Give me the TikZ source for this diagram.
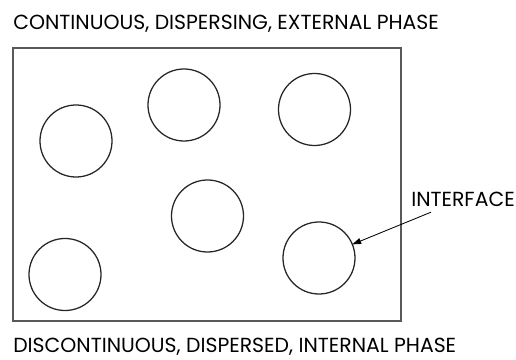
\documentclass[tikz,border=0pt]{standalone}
\usepackage{fontspec}
\setmainfont{Poppins}
\usetikzlibrary{arrows.meta,positioning}
\tikzset{
  drop/.style={circle,draw=black!85,line width=0.9pt,minimum size=1.8cm,inner sep=0pt,outer sep=0pt},
  phase/.style={anchor=base west,inner sep=0pt}
}

\begin{document}
\begin{tikzpicture}[x=0.025cm,y=-0.025cm,font=\fontsize{14.5}{16}\selectfont,>={Triangle[length=2.2mm,width=1.5mm]}]
\useasboundingbox (0,0) rectangle (516,360);
\node[phase] (outer) at (13,30) {CONTINUOUS, DISPERSING, EXTERNAL PHASE};
\draw[black!65,line width=0.8pt] (13,48) rectangle (401,321);
\node[drop] (drop1) at (76,141) {};
\node[drop] (drop2) at (184,105) {};
\node[drop] (drop3) at (314.5,109.5) {};
\node[drop] (drop4) at (207.5,216) {};
\node[drop] (drop5) at (65,274.5) {};
\node[drop] (drop6) at (319,258) {};
\node[phase,anchor=base east] (iface) at (515,207) {INTERFACE};
% arrow from the label down to the droplet
\draw[->,line width=0.6pt] ([xshift=0.5cm,yshift=-0.12cm]iface.south west) -- (drop6);
\node[phase] (inner) at (13,353) {DISCONTINUOUS, DISPERSED, INTERNAL PHASE};
\end{tikzpicture}
\end{document}
